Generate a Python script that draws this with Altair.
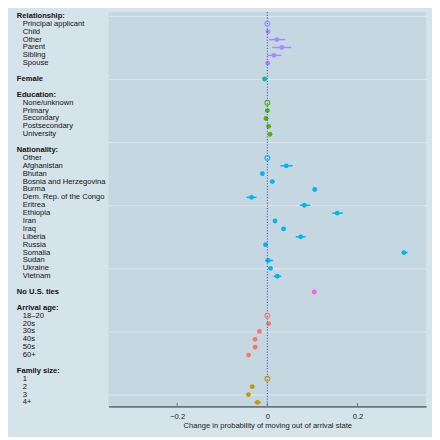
import altair as alt
import pandas as pd

# ---- data ----
rel_labels = ["Principal applicant", "Child", "Other", "Parent", "Sibling", "Spouse"]
rel_est = [0.0, 0.0015, 0.021, 0.032, 0.015, 0.001]
rel_lo = [0.0, -0.002, 0.004, 0.011, 0.0, -0.002]
rel_hi = [0.0, 0.005, 0.040, 0.053, 0.031, 0.004]

fem_est = [-0.006]
fem_lo = [-0.009]
fem_hi = [-0.003]

edu_labels = ["None/unknown", "Primary", "Secondary", "Postsecondary", "University"]
edu_est = [0.0, 0.0, -0.003, 0.003, 0.006]
edu_lo = [0.0, -0.003, -0.006, 0.0, 0.003]
edu_hi = [0.0, 0.003, 0.0, 0.006, 0.009]

nat_labels = ["Other", "Afghanistan", "Bhutan", "Bosnia and Herzegovina", "Burma",
              "Dem. Rep. of the Congo", "Eritrea", "Ethiopia", "Iran", "Iraq", "Liberia",
              "Russia", "Somalia", "Sudan", "Ukraine", "Vietnam"]
nat_est = [0.0, 0.042, -0.011, 0.011, 0.105, -0.035, 0.082, 0.155, 0.017, 0.036, 0.074,
           -0.004, 0.303, 0.002, 0.007, 0.022]
nat_lo = [0.0, 0.029, -0.014, 0.006, 0.101, -0.046, 0.072, 0.144, 0.014, 0.032, 0.063,
          -0.007, 0.297, -0.005, 0.003, 0.014]
nat_hi = [0.0, 0.056, -0.008, 0.016, 0.109, -0.024, 0.095, 0.168, 0.020, 0.040, 0.085,
          -0.001, 0.311, 0.013, 0.011, 0.031]

ties_est = [0.104]
ties_lo = [0.101]
ties_hi = [0.107]

age_labels = ["18\u201320", "20s", "30s", "40s", "50s", "60+"]
age_est = [0.0, 0.003, -0.0175, -0.027, -0.027, -0.0415]
age_lo = [0.0, 0.0, -0.0205, -0.030, -0.030, -0.0445]
age_hi = [0.0, 0.006, -0.0145, -0.024, -0.024, -0.0385]

fam_labels = ["1", "2", "3", "4+"]
fam_est = [0.0, -0.0335, -0.042, -0.022]
fam_lo = [0.0, -0.037, -0.045, -0.029]
fam_hi = [0.0, -0.030, -0.039, -0.014]

tick_values = [-0.2, 0, 0.2]

# groups: header, colour, item labels (None = single-row header), values, has reference
groups = [
    ("Relationship:", "#A58AFF", rel_labels, rel_est, rel_lo, rel_hi, True),
    ("Female", "#00C094", None, fem_est, fem_lo, fem_hi, False),
    ("Education:", "#53B400", edu_labels, edu_est, edu_lo, edu_hi, True),
    ("Nationality:", "#00B6EB", nat_labels, nat_est, nat_lo, nat_hi, True),
    ("No U.S. ties", "#FB61D7", None, ties_est, ties_lo, ties_hi, False),
    ("Arrival age:", "#F8766D", age_labels, age_est, age_lo, age_hi, True),
    ("Family size:", "#C49A00", fam_labels, fam_est, fam_lo, fam_hi, True),
]

head_rows, item_rows, pts = [], [], []
row = 0
for gi, (head, col, labels, est, lo, hi, has_ref) in enumerate(groups):
    if gi > 0:
        row += 1  # blank spacer row
    row += 1
    head_rows.append({"row": row, "label": head})
    if labels is None:
        pts.append({"row": row, "est": est[0], "lo": lo[0], "hi": hi[0],
                    "color": col, "ref": False})
    else:
        for k, lab in enumerate(labels):
            row += 1
            item_rows.append({"row": row, "label": lab})
            pts.append({"row": row, "est": est[k], "lo": lo[k], "hi": hi[k],
                        "color": col, "ref": has_ref and k == 0})
n_rows = row

df_pts = pd.DataFrame(pts)
df_head = pd.DataFrame(head_rows)
df_item = pd.DataFrame(item_rows)

xscale = alt.Scale(domain=[-0.352, 0.352], nice=False, zero=False)
yscale = alt.Scale(domain=[0.5, n_rows + 0.5], nice=False, zero=False, reverse=True)

FONT = "Liberation Sans"

xenc = alt.X("est:Q", scale=xscale,
             axis=alt.Axis(values=tick_values, format="~g", ticks=False, grid=False,
                           domainColor="#66787f", domainWidth=1.6,
                           labelFontSize=7.7, labelColor="#222222", labelFont=FONT,
                           labelPadding=6,
                           title="Change in probability of moving out of arrival state",
                           titleFontSize=7.7, titleFontWeight="normal", titleColor="#222222",
                           titleFont=FONT, titlePadding=2))
yenc = alt.Y("row:Q", scale=yscale,
             axis=alt.Axis(values=list(range(1, n_rows + 1)), labels=False, ticks=False,
                           domain=False, grid=True, gridColor="#dde8ee", gridWidth=1,
                           title=None))

base = alt.Chart(df_pts)

ci = base.mark_rule(strokeWidth=1.5).encode(
    x=alt.X("lo:Q", scale=xscale), x2="hi:Q",
    y=alt.Y("row:Q", scale=yscale),
    color=alt.Color("color:N", scale=None),
).transform_filter("!datum.ref")

zero = alt.Chart(pd.DataFrame({"z": [0]})).mark_rule(
    color="#4a4ae0", strokeWidth=1, strokeDash=[1.2, 1.6]
).encode(x=alt.X("z:Q", scale=xscale))

dots = base.mark_circle(size=24, opacity=1).encode(
    x=xenc, y=yenc, color=alt.Color("color:N", scale=None)
).transform_filter("!datum.ref")

refs = base.mark_point(shape="circle", filled=False, size=24, strokeWidth=1.1,
                       opacity=1).encode(
    x=alt.X("est:Q", scale=xscale), y=alt.Y("row:Q", scale=yscale),
    color=alt.Color("color:N", scale=None)
).transform_filter("datum.ref")

ticks = alt.Chart(pd.DataFrame({"t": tick_values})).mark_rule(
    color="#66787f", strokeWidth=1
).encode(x=alt.X("t:Q", scale=xscale), y=alt.value(396.5), y2=alt.value(400))

heads = alt.Chart(df_head).mark_text(
    align="left", baseline="middle", fontSize=7.7, fontWeight="bold",
    font=FONT, color="#111111"
).encode(x=alt.value(-93), y=alt.Y("row:Q", scale=yscale), text="label:N")

items = alt.Chart(df_item).mark_text(
    align="left", baseline="middle", fontSize=7.7, font=FONT, color="#111111"
).encode(x=alt.value(-87), y=alt.Y("row:Q", scale=yscale), text="label:N")

chart = alt.layer(dots, ci, zero, refs, ticks, heads, items).properties(
    width=322, height=400,
    autosize=alt.AutoSizeParams(type="none"),
    padding={"left": 102, "top": 1, "right": 6, "bottom": 28},
    background="#d5e3ea",
).configure_view(fill="#c5d7e0", stroke=None)

chart.save("out.html", embed_options={"renderer": "svg", "actions": False})
